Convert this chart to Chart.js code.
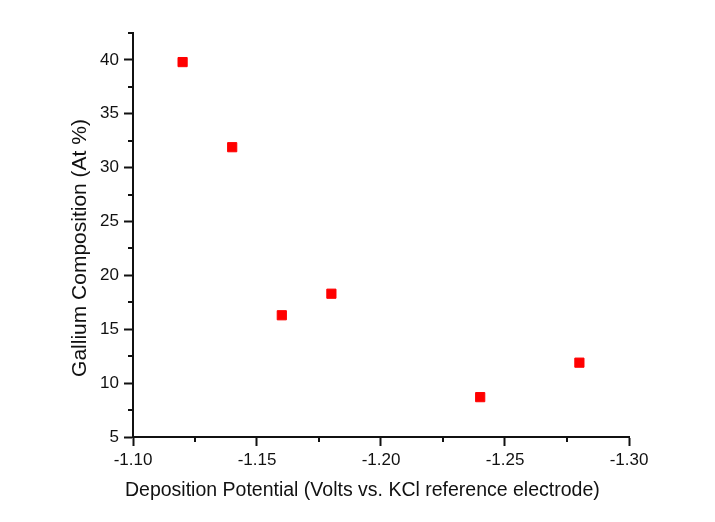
<!DOCTYPE html>
<html>
<head>
<meta charset="utf-8">
<script src="https://cdn.jsdelivr.net/npm/chart.js@4.4.1/dist/chart.umd.min.js"></script>
<style>
  html, body { margin: 0; padding: 0; background: #fff; }
  #wrap { width: 715px; height: 522px; }
</style>
</head>
<body>
<div id="wrap"><canvas id="c" width="715" height="522"></canvas></div>
<script>
// deposition potential (V vs. KCl) and gallium content (at %)
var potentials = [-1.12, -1.14, -1.16, -1.18, -1.24, -1.28]
var galliumAt  = [39.8, 31.9, 16.3, 18.3, 8.7, 11.9]

// major tick positions
var xTicks = [-1.10, -1.15, -1.20, -1.25, -1.30]
var yTicks = [5, 10, 15, 20, 25, 30, 35, 40]

var xTitle = 'Deposition Potential (Volts vs. KCl reference electrode)'
var yTitle = 'Gallium Composition (At %)'

var ink = '#111'
var fontFamily = '"Liberation Sans", Arial, sans-serif'

// short ticks halfway between the major ones
var minorTicks = {
  id: 'minorTicks',
  afterDraw: function(chart) {
    var ctx = chart.ctx
      , area = chart.chartArea
      , xs = chart.scales.x
      , ys = chart.scales.y
    ctx.save()
    ctx.strokeStyle = ink
    ctx.lineWidth = 2
    ctx.beginPath()
    for (var i = 0; i < xTicks.length - 1; i++) {
      var px = Math.round(xs.getPixelForValue((xTicks[i] + xTicks[i + 1]) / 2))
      ctx.moveTo(px, area.bottom)
      ctx.lineTo(px, area.bottom + 5)
    }
    for (var j = 0; j < yTicks.length; j++) {
      var py = Math.round(ys.getPixelForValue(yTicks[j] + 2.5))
      ctx.moveTo(area.left, py)
      ctx.lineTo(area.left - 5, py)
    }
    ctx.stroke()
    ctx.restore()
  }
}

// axis titles: x starts just left of the y axis, y sits a bit below middle
var axisTitles = {
  id: 'axisTitles',
  afterDraw: function(chart) {
    var ctx = chart.ctx
      , area = chart.chartArea
    ctx.save()
    ctx.fillStyle = ink
    ctx.textBaseline = 'middle'
    ctx.textAlign = 'left'
    ctx.font = '19.5px ' + fontFamily
    ctx.fillText(xTitle, area.left - 8, area.bottom + 54)
    ctx.font = '21px ' + fontFamily
    ctx.translate(area.left - 53, (area.top + area.bottom) / 2 + 13)
    ctx.rotate(-Math.PI / 2)
    ctx.textAlign = 'center'
    ctx.fillText(yTitle, 0, 0)
    ctx.restore()
  }
}

var points = potentials.map(function(v, i) { return {x: v, y: galliumAt[i]} })

new Chart(document.getElementById('c'), {
  type: 'scatter',
  data: {
    datasets: [{
      data: points,
      pointStyle: 'rect',
      pointRadius: 6.5,
      pointHoverRadius: 6.5,
      borderWidth: 1,
      backgroundColor: '#ff0000',
      borderColor: '#ff0000'
    }]
  },
  options: {
    responsive: false,
    animation: false,
    events: [],
    layout: { padding: { top: 33, right: 86, left: 60, bottom: 10 } },
    plugins: { legend: { display: false }, tooltip: { enabled: false } },
    scales: {
      x: {
        type: 'linear',
        position: 'bottom',
        reverse: true,
        min: -1.30,
        max: -1.10,
        afterBuildTicks: function(s) { s.ticks = xTicks.map(function(v) { return {value: v} }) },
        afterFit: function(s) { s.height = 75 },
        grid: { drawOnChartArea: false, tickLength: 9, tickWidth: 2, tickColor: ink },
        border: { color: ink, width: 2 },
        ticks: {
          color: ink,
          padding: 4,
          maxRotation: 0,
          font: { family: fontFamily, size: 17 },
          callback: function(v) { return v.toFixed(2) }
        }
      },
      y: {
        type: 'linear',
        min: 5,
        max: 42.5,
        afterBuildTicks: function(s) { s.ticks = yTicks.map(function(v) { return {value: v} }) },
        afterFit: function(s) { s.width = 73 },
        grid: { drawOnChartArea: false, tickLength: 9, tickWidth: 2, tickColor: ink },
        border: { color: ink, width: 2 },
        ticks: {
          color: ink,
          padding: 5,
          font: { family: fontFamily, size: 17 }
        }
      }
    }
  },
  plugins: [minorTicks, axisTitles]
})
</script>
</body>
</html>
